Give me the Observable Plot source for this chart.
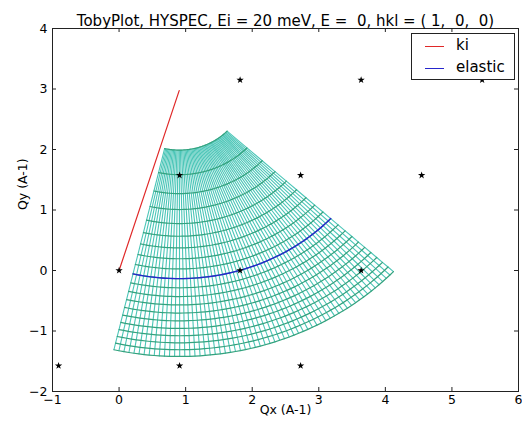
<!DOCTYPE html>
<html>
<head>
<meta charset="utf-8">
<script src="https://cdn.jsdelivr.net/npm/d3@7"></script>
<script src="https://cdn.jsdelivr.net/npm/@observablehq/plot@0.6"></script>
<style>
  body { margin: 0; background: #fff; }
  #wrap { position: relative; width: 522px; height: 424px; font-family: "DejaVu Sans", sans-serif; }
  #wrap svg text { white-space: pre; }
  .legend { position: absolute; left: 411px; top: 33px; width: 102px; height: 45px;
            border: 1px solid #222; background: #fff; font-size: 15px; color: #000; }
  .legend .sw { position: absolute; left: 13px; width: 19px; height: 1.3px; }
  .legend .lb { position: absolute; left: 44px; line-height: 15px; }
</style>
</head>
<body>
<div id="wrap">
  <div class="legend">
    <span class="sw" style="top:12px;background:#e02828"></span><span class="lb" style="top:4px">ki</span>
    <span class="sw" style="top:34px;background:#2626cc"></span><span class="lb" style="top:26px">elastic</span>
  </div>
</div>
<script>
// Axis ticks
const xTicks = [-1, 0, 1, 2, 3, 4, 5, 6];
const yTicks = [-2, -1, 0, 1, 2, 3, 4];

// Instrument settings
const title = "TobyPlot, HYSPEC, Ei = 20 meV, E =  0, hkl = ( 1,  0,  0)";
const Ei = 20;          // incident energy, meV
const kiAngle = 73.1;   // direction of ki in the Qx–Qy plane, degrees

// Energy transfers (meV) drawn as constant-E arcs of the coverage mesh
const transfers = [-20, -18, -16, -14, -12, -10, -8, -6, -4, -2, 0, 2, 4, 6, 8, 10, 12, 14, 16, 18];
// Detector scattering angles (degrees) drawn as constant-angle lines
const twoTheta = [4, 5, 6, 7, 8, 9, 10, 11, 12, 13, 14, 15, 16, 17, 18, 19, 20, 21, 22, 23, 24,
  25, 26, 27, 28, 29, 30, 31, 32, 33, 34, 35, 36, 37, 38, 39, 40, 41, 42, 43, 44, 45, 46, 47,
  48, 49, 50, 51, 52, 53, 54, 55, 56, 57, 58, 59, 60, 61, 62, 63, 64];

// Reciprocal lattice points in the scattering plane
const braggQx = [0, 1.818, 3.636, 0.909, 2.727, 4.545, 1.818, 3.636, 5.454, -0.909, 0.909, 2.727];
const braggQy = [0, 0, 0, 1.574, 1.574, 1.574, 3.149, 3.149, 3.149, -1.574, -1.574, -1.574];

// Q = ki - kf for a given scattering angle and energy transfer
const K = 2.0721;
const rad = Math.PI / 180;
const kOf = e => Math.sqrt(e / K);
const ki = kOf(Ei);
const kix = ki * Math.cos(kiAngle * rad), kiy = ki * Math.sin(kiAngle * rad);
function q(tt, dE) {
  const kf = kOf(Ei - dE), a = (kiAngle + tt) * rad;
  return {x: kix - kf * Math.cos(a), y: kiy - kf * Math.sin(a)};
}

const radial = twoTheta.flatMap(tt => transfers.map(dE => ({...q(tt, dE), g: tt})));
const arcs = transfers.flatMap(dE => twoTheta.map(tt => ({...q(tt, dE), g: dE})));
const elastic = twoTheta.map(tt => q(tt, 0));
const kiLine = [{x: 0, y: 0}, {x: kix, y: kiy}];
const bragg = braggQx.map((x, i) => ({x, y: braggQy[i]}));

const W = 522, H = 424, mL = 52, mR = 4, mT = 28, mB = 33;
const frameW = W - mL - mR, frameH = H - mT - mB;
const fs = 12.5;
const fmt = d3.format("d");

const chart = Plot.plot({
  width: W, height: H,
  marginLeft: mL, marginRight: mR, marginTop: mT, marginBottom: mB,
  style: {fontFamily: "DejaVu Sans, sans-serif", background: "#fff", color: "#000", overflow: "visible"},
  x: {domain: [-1, 6], nice: false},
  y: {domain: [-2, 4], nice: false},
  marks: [
    Plot.line(radial, {x: "x", y: "y", z: "g", stroke: "#4cc6b8", strokeWidth: 1.1}),
    Plot.line(arcs, {x: "x", y: "y", z: "g", stroke: "#34a27e", strokeWidth: 1.2}),
    Plot.line(kiLine, {x: "x", y: "y", stroke: "#e02828", strokeWidth: 1.2}),
    Plot.line(elastic, {x: "x", y: "y", stroke: "#2626cc", strokeWidth: 1.4}),
    Plot.dot(bragg, {x: "x", y: "y", symbol: "star", r: 2.3, fill: "#000", stroke: null}),
    Plot.frame({stroke: "#222"}),
    // inward ticks on all four sides
    Plot.tickX(xTicks, {x: d => d, insetTop: frameH - 4, stroke: "#222"}),
    Plot.tickX(xTicks, {x: d => d, insetBottom: frameH - 4, stroke: "#222"}),
    Plot.tickY(yTicks, {y: d => d, insetRight: frameW - 4, stroke: "#222"}),
    Plot.tickY(yTicks, {y: d => d, insetLeft: frameW - 4, stroke: "#222"}),
    Plot.axisX(xTicks, {anchor: "bottom", tickSize: 0, tickPadding: 4, fontSize: fs, tickFormat: fmt, label: null}),
    Plot.axisY(yTicks, {anchor: "left", tickSize: 0, tickPadding: 5, fontSize: fs, tickFormat: fmt, label: null}),
    Plot.text([title], {text: d => d, frameAnchor: "top", dy: -13, fontSize: 15}),
    Plot.text(["Qx (A-1)"], {text: d => d, frameAnchor: "bottom", dy: 22, fontSize: fs}),
    Plot.text(["Qy (A-1)"], {text: d => d, frameAnchor: "left", dx: -30, rotate: -90, fontSize: fs})
  ]
});
document.getElementById("wrap").prepend(chart);
</script>
</body>
</html>
